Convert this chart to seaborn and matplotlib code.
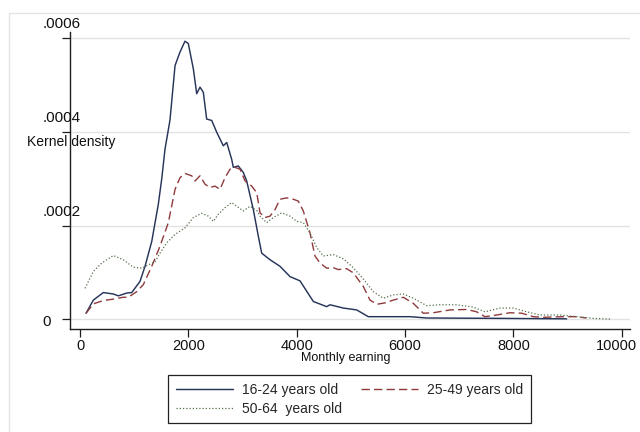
import matplotlib
matplotlib.use("Agg")
import matplotlib.pyplot as plt
import matplotlib.transforms as mtransforms
import seaborn as sns
import pandas as pd
from matplotlib.lines import Line2D

# ---------------- data ----------------
groups = ["16-24 years old", "25-49 years old", "50-64  years old"]

earn_1624 = [111, 246, 430, 615, 707, 862, 954, 1108, 1200, 1324,
             1445, 1508, 1569, 1661, 1754, 1846, 1938, 1999, 2092, 2154,
             2215, 2276, 2338, 2431, 2523, 2645, 2708, 2800, 2830, 2922,
             3015, 3077, 3199, 3292, 3354, 3508, 3692, 3877, 4061, 4307,
             4554, 4615, 4861, 5108, 5322, 6092, 6400, 7753, 8985]
dens_1624 = [12.9e-6, 41e-6, 57e-6, 54e-6, 50e-6, 56e-6, 57e-6, 81e-6, 113e-6, 166e-6,
             245e-6, 299e-6, 363e-6, 425e-6, 541e-6, 570e-6, 593e-6, 588e-6, 534e-6, 481e-6,
             495e-6, 484e-6, 427e-6, 424e-6, 399e-6, 370e-6, 377e-6, 341e-6, 324e-6, 327e-6,
             313e-6, 295e-6, 234e-6, 177e-6, 141e-6, 127e-6, 113e-6, 91e-6, 82e-6, 38e-6,
             27e-6, 31e-6, 24e-6, 20e-6, 5.6e-6, 5.6e-6, 2.8e-6, 2e-6, 1e-6]

earn_2549 = [111, 246, 430, 615, 799, 892, 1047, 1169, 1324, 1477,
             1630, 1754, 1846, 1938, 2062, 2123, 2215, 2308, 2400, 2492,
             2584, 2677, 2769, 2861, 2954, 3046, 3169, 3262, 3323, 3415,
             3508, 3600, 3692, 3815, 3938, 4030, 4122, 4246, 4338, 4430,
             4554, 4676, 4768, 4923, 5045, 5230, 5353, 5477, 5630, 5784,
             5968, 6153, 6337, 6522, 6830, 7138, 7322, 7476, 7692, 7938,
             8154, 8368, 8553, 8922, 9169, 9341]
dens_2549 = [12.9e-6, 33e-6, 40e-6, 43e-6, 47e-6, 47e-6, 59e-6, 74e-6, 113e-6, 156e-6,
             206e-6, 277e-6, 302e-6, 311e-6, 306e-6, 295e-6, 306e-6, 288e-6, 281e-6, 284e-6,
             277e-6, 302e-6, 320e-6, 324e-6, 320e-6, 295e-6, 284e-6, 270e-6, 227e-6, 217e-6,
             220e-6, 234e-6, 256e-6, 259e-6, 256e-6, 252e-6, 231e-6, 184e-6, 135e-6, 120e-6,
             109e-6, 110e-6, 106e-6, 108e-6, 99e-6, 70e-6, 41e-6, 32e-6, 35e-6, 41e-6,
             47e-6, 34e-6, 13e-6, 14e-6, 20e-6, 21e-6, 16e-6, 5.6e-6, 9.2e-6, 14e-6,
             13e-6, 5.6e-6, 4.3e-6, 5.6e-6, 5.6e-6, 2.8e-6]

earn_5064 = [92, 246, 401, 615, 799, 984, 1139, 1261, 1385, 1477,
             1600, 1754, 1938, 2092, 2246, 2368, 2461, 2553, 2677, 2800,
             2893, 3015, 3138, 3262, 3323, 3446, 3569, 3723, 3877, 4000,
             4122, 4246, 4369, 4492, 4676, 4861, 5045, 5230, 5414, 5599,
             5784, 5968, 6153, 6400, 6646, 6953, 7261, 7476, 7753, 7999,
             8245, 8492, 8861, 9169, 9476, 9784]
dens_5064 = [66e-6, 102e-6, 120e-6, 136e-6, 127e-6, 111e-6, 109e-6, 116e-6, 123e-6, 141e-6,
             163e-6, 181e-6, 195e-6, 217e-6, 226e-6, 220e-6, 209e-6, 224e-6, 238e-6, 249e-6,
             241e-6, 231e-6, 241e-6, 232e-6, 220e-6, 206e-6, 217e-6, 227e-6, 220e-6, 209e-6,
             206e-6, 184e-6, 153e-6, 135e-6, 138e-6, 129e-6, 110e-6, 86e-6, 59e-6, 45e-6,
             52e-6, 54e-6, 45e-6, 29e-6, 31e-6, 31e-6, 26e-6, 16e-6, 24e-6, 24e-6,
             16e-6, 9.2e-6, 9.2e-6, 5.6e-6, 2.1e-6, 0.5e-6]

x_ticks = [0, 2000, 4000, 6000, 8000, 10000]
y_ticks = [0, 0.0002, 0.0004, 0.0006]
y_tick_labels = ["0", ".0002", ".0004", ".0006"]

# ---------------- frame ----------------
df = pd.concat([
    pd.DataFrame({"earning": earn_1624, "density": dens_1624, "group": groups[0]}),
    pd.DataFrame({"earning": earn_2549, "density": dens_2549, "group": groups[1]}),
    pd.DataFrame({"earning": earn_5064, "density": dens_5064, "group": groups[2]}),
], ignore_index=True)

sns.set_theme(style="white")
plt.rcParams["font.family"] = ["Liberation Sans", "DejaVu Sans"]

W, H = 640, 432
fig = plt.figure(figsize=(6.4, 4.32), dpi=100)
ax_l, ax_r, ax_t, ax_b = 70, 630, 32, 329.3
ax = fig.add_axes([ax_l / W, 1 - ax_b / H, (ax_r - ax_l) / W, (ax_b - ax_t) / H])

palette = {groups[0]: "#27355a", groups[1]: "#8e3a3d", groups[2]: "#56704f"}
dashes = {groups[0]: "", groups[1]: (6, 3), groups[2]: (1, 1.6)}

sns.lineplot(data=df, x="earning", y="density", hue="group", style="group",
             hue_order=groups, style_order=groups, palette=palette, dashes=dashes,
             sort=False, estimator=None, legend=False, ax=ax, linewidth=1.0)

widths = [1.05, 1.0, 0.9]
for ln, w in zip(ax.lines, widths):
    ln.set_linewidth(w)

ax.set_xlim(-185, 10153)
ax.set_ylim(-2.13e-5, 6.126e-4)
ax.set_xticks(x_ticks)
ax.set_xticklabels([str(v) for v in x_ticks])
ax.set_yticks(y_ticks)
ax.set_yticklabels([""] * len(y_ticks))

ax.grid(axis="y", color="#e2e2e2", linewidth=1.0)
ax.grid(axis="x", visible=False)
ax.set_axisbelow(True)

for s in ["top", "right"]:
    ax.spines[s].set_visible(False)
for s in ["left", "bottom"]:
    ax.spines[s].set_color("#1e1e1e")
    ax.spines[s].set_linewidth(1.0)

ax.tick_params(axis="x", bottom=True, length=5.5, width=0.9, color="#1e1e1e",
               direction="out", pad=1.5, labelsize=10.5, labelcolor="#111111")
ax.tick_params(axis="y", left=True, length=5.5, width=0.9, color="#1e1e1e",
               direction="out", labelleft=False)

# the last x label sits slightly left of its tick, inside the picture
last = ax.get_xticklabels()[-1]
last.set_transform(last.get_transform() +
                   mtransforms.ScaledTranslation(-5 / 100, 0, fig.dpi_scale_trans))

# y tick labels, placed as in the reference (above-left of each tick)
for v, lab in zip(y_ticks, y_tick_labels):
    dy = -3 if v == 0 else 13.5
    dx = -28 if v == 0 else -27
    ax.annotate(lab, xy=(0, v), xycoords=("axes fraction", "data"),
                xytext=(dx, dy), textcoords="offset pixels",
                ha="left", va="center", fontsize=11, color="#111111")

ax.set_xlabel("Monthly earning", fontsize=9, color="#111111")
ax.xaxis.set_label_coords((346 - ax_l) / (ax_r - ax_l), (ax_b - 358) / (ax_b - ax_t))
ax.xaxis.label.set_va("center")

ax.set_ylabel("Kernel density", fontsize=10, rotation=0, color="#111111")
ax.yaxis.set_label_coords((27 - ax_l) / (ax_r - ax_l), (ax_b - 142) / (ax_b - ax_t))
ax.yaxis.label.set_ha("left")
ax.yaxis.label.set_va("center")

# legend: row 1 -> 16-24, 25-49 ; row 2 -> 50-64
ln = ax.lines
leg = ax.legend([ln[0], ln[2], ln[1]], [groups[0], groups[2], groups[1]],
                ncol=2, loc="upper left",
                bbox_to_anchor=(168 / W, 1 - 375 / H), bbox_transform=fig.transFigure,
                borderaxespad=0, fontsize=10, handlelength=4.1, handletextpad=0.65,
                columnspacing=1.4, labelspacing=0.35, borderpad=0.55,
                frameon=True, fancybox=False, framealpha=1)
leg.get_frame().set_edgecolor("#222222")
leg.get_frame().set_linewidth(0.9)

# light outer graph-region frame (left and top edges visible)
fig.add_artist(Line2D([9 / W, 9 / W], [0, 1 - 13 / H], transform=fig.transFigure,
                      color="#e4e4e4", linewidth=1.0))
fig.add_artist(Line2D([9 / W, 1.0], [1 - 13 / H, 1 - 13 / H], transform=fig.transFigure,
                      color="#e4e4e4", linewidth=1.0))

fig.savefig("out.png", dpi=100)
